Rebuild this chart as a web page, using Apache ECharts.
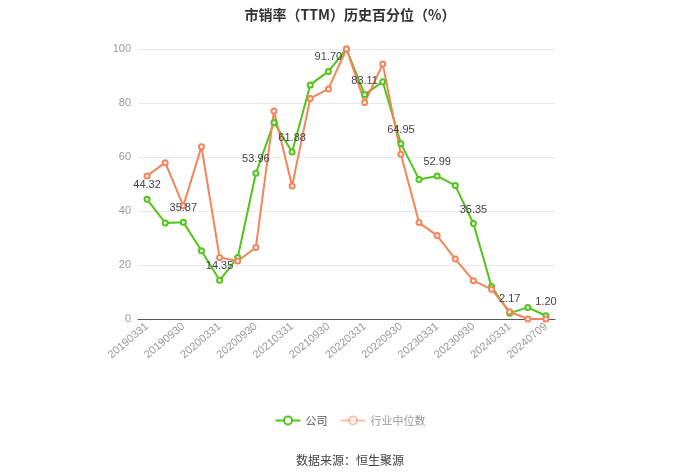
<!DOCTYPE html>
<html>
<head>
<meta charset="utf-8">
<script src="https://cdn.jsdelivr.net/npm/echarts@6/dist/echarts.min.js"></script>
<style>html,body{margin:0;padding:0;background:#fff;}#c{width:700px;height:473px;}</style>
</head>
<body>
<div id="c"></div>
<script>
const categories = ['20190331','20190630','20190930','20191231','20200331','20200630','20200930','20201231','20210331','20210630','20210930','20211231','20220331','20220630','20220930','20221231','20230331','20230630','20230930','20231231','20240331','20240630','20240709'];
const companyValues = [44.32,35.6,35.87,25.3,14.35,22.8,53.96,72.8,61.88,86.7,91.70,100,83.11,87.9,64.95,51.7,52.99,49.4,35.35,12.0,2.17,4.3,1.20];
const industryValues = [53.0,57.9,41.9,63.8,22.8,21.5,26.5,77.0,49.3,81.7,85.2,100,80.2,94.4,61.0,35.7,30.9,22.2,14.2,11.0,2.7,0,0];
const yTicks = [0,20,40,60,80,100];
const titleText = '市销率（TTM）历史百分位（%）';
const sourceText = '数据来源：恒生聚源';
const seriesNames = ['公司','行业中位数'];

const chart = echarts.init(document.getElementById('c'), null, {renderer:'canvas'});
const green = '#52c41a';
const orange = '#f5845b';
chart.setOption({
  animation:false,
  title:[{text:titleText,left:'center',top:3,textStyle:{fontSize:14,fontWeight:'bold',color:'#333',fontFamily:'Noto Sans CJK SC'}},
         {text:sourceText,left:'center',top:449,textStyle:{fontSize:12,fontWeight:'normal',color:'#444',fontFamily:'Noto Sans CJK SC'}}],
  legend:{bottom:42,left:'center',itemWidth:25,itemHeight:10,itemGap:12,
    textStyle:{fontSize:11,color:'#555',fontFamily:'Noto Sans CJK SC'},
    data:[{name:seriesNames[0]},{name:seriesNames[1],itemStyle:{opacity:0.5},lineStyle:{opacity:0.5},textStyle:{color:'#999'}}]},
  grid:{left:138,right:145,top:49,bottom:154},
  xAxis:{type:'category',data:categories,boundaryGap:true,
    axisLine:{lineStyle:{color:'#555'}},
    axisTick:{alignWithLabel:true,interval:1,lineStyle:{color:'#555'}},
    axisLabel:{interval:1,rotate:40,fontSize:11,color:'#999',margin:6}},
  yAxis:{type:'value',min:yTicks[0],max:yTicks[yTicks.length-1],interval:20,
    axisLine:{show:false},axisTick:{show:false},
    axisLabel:{fontSize:11,color:'#999',margin:7},
    splitLine:{lineStyle:{color:'#e8e8ee'}}},
  series:[
    {name:seriesNames[0],type:'line',data:companyValues,color:green,symbol:'emptyCircle',symbolSize:5,
     lineStyle:{width:2,color:green},itemStyle:{color:green},
     label:{show:true,position:'top',fontSize:11,color:'#444',distance:5,
       formatter:p=>p.dataIndex%2===0?p.value.toFixed(2):''}},
    {name:seriesNames[1],type:'line',data:industryValues,color:orange,symbol:'emptyCircle',symbolSize:5,
     lineStyle:{width:2,color:orange},itemStyle:{color:orange}}
  ]
});
</script>
</body>
</html>
